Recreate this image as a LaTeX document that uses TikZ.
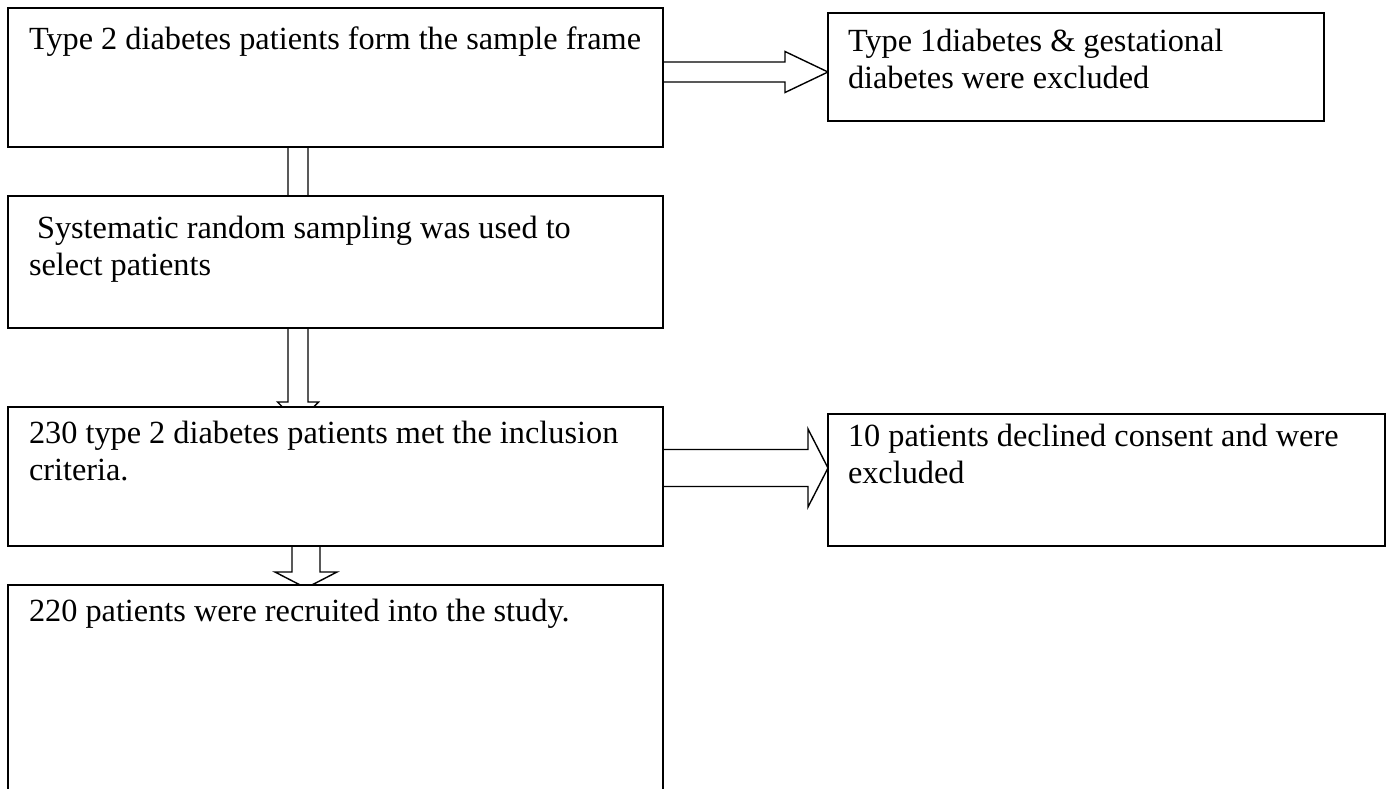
\documentclass[tikz,border=0pt]{standalone}
\usepackage{fontspec}
\setmainfont{Liberation Serif}
\usetikzlibrary{calc,backgrounds}
\tikzset{
  box/.style={draw, line width=1.6pt, fill=white, inner sep=0pt, outer sep=0pt, anchor=north west},
  txt/.style={anchor=base west, inner sep=0pt, outer sep=0pt, align=left, font=\fontsize{32.3}{37}\selectfont},
  blk/.style={draw, line width=1.4pt, fill=white, line join=miter},
}
% #1 start (tail), #2 tip, #3 half shaft, #4 half head, #5 head length
\newcommand\downblock[5]{%
  \draw[blk] let \p1=(#1), \p2=(#2) in
    (\x2-#3pt,\y1) -- (\x2-#3pt,\y2+#5pt) -- (\x2-#4pt,\y2+#5pt) -- (\p2)
    -- (\x2+#4pt,\y2+#5pt) -- (\x2+#3pt,\y2+#5pt) -- (\x2+#3pt,\y1) -- cycle;}
\newcommand\rightblock[5]{%
  \draw[blk] let \p1=(#1), \p2=(#2) in
    (\x1,\y2+#3pt) -- (\x2-#5pt,\y2+#3pt) -- (\x2-#5pt,\y2+#4pt) -- (\p2)
    -- (\x2-#5pt,\y2-#4pt) -- (\x2-#5pt,\y2-#3pt) -- (\x1,\y2-#3pt) -- cycle;}
\begin{document}
\begin{tikzpicture}[x=1pt,y=-1pt]
\useasboundingbox (0,0) rectangle (1393,788);

% boxes
\node[box, minimum width=655pt, minimum height=139pt] (b1) at (8,8) {};
\node[box, minimum width=655pt, minimum height=132pt] (b2) at (8,196) {};
\node[box, minimum width=655pt, minimum height=139pt] (b3) at (8,407) {};
\node[box, minimum width=655pt, minimum height=207pt] (b4) at (8,585) {};
\node[box, minimum width=496pt, minimum height=108pt] (r1) at (828,13) {};
\node[box, minimum width=557pt, minimum height=132pt] (r2) at (828,414) {};

% texts (anchor = baseline of the last line)
\node[txt] (t1) at (29,49) {Type 2 diabetes patients form the sample frame};
\node[txt] (t2) at (29,275) {\ Systematic random sampling was used to\\select patients};
\node[txt] (t3) at (29,480) {230 type 2 diabetes patients met the inclusion\\criteria.};
\node[txt] (t4) at (29,621) {220 patients were recruited into the study.};
\node[txt] (t5) at (848,88) {Type 1diabetes \& gestational\\diabetes were excluded};
\node[txt] (t6) at (848,483) {10 patients declined consent and were\\excluded};

% arrow tips
\coordinate (p1) at ([xshift=290pt,yshift=-25pt]b2.north west);
\coordinate (p2) at ([xshift=290pt,yshift=-15.5pt]b3.north west);
\coordinate (p3) at ([xshift=298pt,yshift=-3pt]b4.north west);
\coordinate (p4) at ([yshift=-59pt]r1.north west);
\coordinate (p5) at ([yshift=-54pt]r2.north west);

\begin{pgfonlayer}{background}
  \fill[white] (0,0) rectangle (1393,788);
  \downblock{b1.south}{p1}{10}{20.5}{20.5}
  \downblock{b2.south}{p2}{10}{20.5}{20.5}
  \downblock{b3.south}{p3}{14}{31}{16}
  \rightblock{b1.east}{p4}{10}{20.5}{43}
  \rightblock{b3.east}{p5}{18.5}{39}{20}
\end{pgfonlayer}
\end{tikzpicture}
\end{document}
